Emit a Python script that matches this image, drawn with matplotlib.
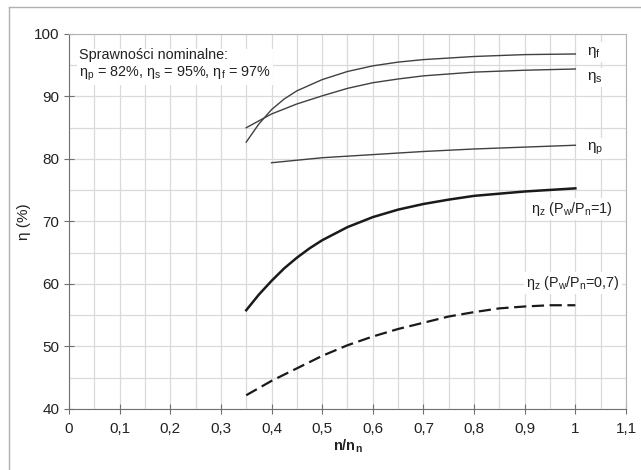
import numpy as np
import matplotlib.pyplot as plt
from matplotlib.lines import Line2D

plt.rcParams['font.family'] = ['Liberation Sans', 'DejaVu Sans']
plt.rcParams['mathtext.fontset'] = 'custom'
plt.rcParams['mathtext.rm'] = 'Liberation Sans'
plt.rcParams['mathtext.default'] = 'regular'

# dane
n_f = [0.35, 0.375, 0.40, 0.425, 0.45, 0.50, 0.55, 0.60, 0.65, 0.70, 0.80, 0.90, 1.00]
eta_f = [82.7, 85.6, 87.9, 89.6, 90.9, 92.7, 94.0, 94.9, 95.5, 95.9, 96.4, 96.7, 96.8]

n_s = [0.35, 0.40, 0.45, 0.50, 0.55, 0.60, 0.65, 0.70, 0.80, 0.90, 1.00]
eta_s = [85.0, 87.2, 88.8, 90.1, 91.3, 92.2, 92.8, 93.3, 93.9, 94.2, 94.4]

n_p = [0.40, 0.50, 0.60, 0.70, 0.80, 0.90, 1.00]
eta_p = [79.4, 80.2, 80.7, 81.2, 81.6, 81.9, 82.2]

n_z1 = [0.35, 0.375, 0.40, 0.425, 0.45, 0.475, 0.50, 0.55, 0.60, 0.65, 0.70, 0.75, 0.80, 0.90, 1.00]
eta_z1 = [55.8, 58.3, 60.5, 62.5, 64.2, 65.7, 67.0, 69.1, 70.7, 71.9, 72.8, 73.5, 74.1, 74.8, 75.3]

n_z07 = [0.35, 0.40, 0.45, 0.50, 0.55, 0.60, 0.65, 0.70, 0.75, 0.80, 0.85, 0.90, 0.95, 1.00]
eta_z07 = [42.2, 44.5, 46.5, 48.5, 50.2, 51.6, 52.8, 53.8, 54.8, 55.5, 56.1, 56.4, 56.6, 56.6]

x_ticks = np.arange(0, 1.11, 0.1)
x_labels = ['0', '0,1', '0,2', '0,3', '0,4', '0,5', '0,6', '0,7', '0,8', '0,9', '1', '1,1']
y_ticks = [40, 50, 60, 70, 80, 90, 100]

fig = plt.figure(figsize=(6.41, 4.70), dpi=100)
ax = fig.add_axes([0.1076, 0.1298, 0.869, 0.7979])

# ramka wokół rysunku (widoczna lewa i górna krawędź)
fig.add_artist(Line2D([0.014, 0.014], [0, 0.985], color='#b0b0b0', lw=1.0))
fig.add_artist(Line2D([0.014, 1.0], [0.985, 0.985], color='#b0b0b0', lw=1.0))

ax.plot(n_f, eta_f, color='#404040', lw=1.0)
ax.plot(n_s, eta_s, color='#404040', lw=1.0)
ax.plot(n_p, eta_p, color='#404040', lw=1.0)
ax.plot(n_z1, eta_z1, color='#1a1a1a', lw=1.8)
ax.plot(n_z07, eta_z07, color='#1a1a1a', lw=1.6, dashes=(5.5, 2.5))

ax.set_xlim(0, 1.1)
ax.set_ylim(40, 100)
ax.set_xticks(x_ticks)
ax.set_xticklabels(x_labels)
ax.set_yticks(y_ticks)
ax.set_xticks(np.arange(0.05, 1.1, 0.1), minor=True)
ax.set_yticks([45, 55, 65, 75, 85, 95], minor=True)
ax.grid(True, which='both', color='#dadada', lw=0.9)
ax.set_axisbelow(True)

ax.tick_params(axis='both', which='major', direction='inout', length=7, color='#707070',
               labelsize=11, labelcolor='#222222')
ax.tick_params(axis='x', which='major', pad=6)
ax.tick_params(axis='both', which='minor', length=0)
for side in ['left', 'bottom']:
    ax.spines[side].set_color('#707070')
for side in ['top', 'right']:
    ax.spines[side].set_color('#b5b5b5')

ax.set_xlabel('n/n$_{n}$', fontsize=10.5, fontweight='bold', color='#222222', labelpad=1)
ax.set_ylabel('η (%)', fontsize=11, color='#222222', labelpad=2)

box = dict(facecolor='white', edgecolor='none', pad=1.5)
ax.text(0.02, 97.8, 'Sprawności nominalne:\nη$_{p}$ = 82%, η$_{s}$ = 95%, η$_{f}$ = 97%',
        fontsize=10.4, color='#222222', va='top', ha='left', linespacing=1.25, bbox=box)
ax.text(1.023, 97.1, 'η$_{f}$', fontsize=11, color='#222222', va='center', bbox=box)
ax.text(1.023, 93.0, 'η$_{s}$', fontsize=11, color='#222222', va='center', bbox=box)
ax.text(1.023, 81.7, 'η$_{p}$', fontsize=11, color='#222222', va='center', bbox=box)
ax.text(0.912, 72.0, 'η$_{z}$ (P$_{w}$/P$_{n}$=1)', fontsize=10.4, color='#222222',
        va='center', bbox=box)
ax.text(0.903, 60.2, 'η$_{z}$ (P$_{w}$/P$_{n}$=0,7)', fontsize=10.4, color='#222222',
        va='center', bbox=box)

plt.savefig('out.png', dpi=100)
